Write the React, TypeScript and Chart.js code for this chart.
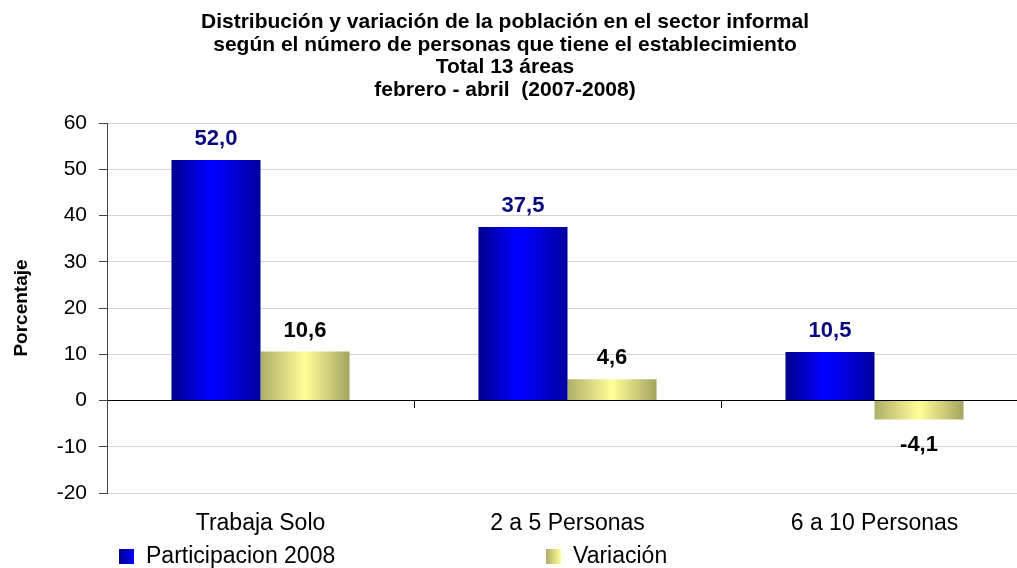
import React, { useEffect, useRef } from 'react';
import { Chart, registerables } from 'chart.js';

Chart.register(...registerables);

const categories = ['Trabaja Solo', '2 a 5 Personas', '6 a 10 Personas'];
const participacion2008 = [52.0, 37.5, 10.5];
const variacion = [10.6, 4.6, -4.1];
const seriesNames = ['Participacion 2008', 'Variación'];
const titleLines = [
  'Distribución y variación de la población en el sector informal',
  'según el número de personas que tiene el establecimiento',
  'Total 13 áreas',
  'febrero - abril  (2007-2008)',
];
const yAxisTitle = 'Porcentaje';
const yMin = -20;
const yMax = 60;
const yStep = 10;

const FONT = "'Liberation Sans', Arial, sans-serif";
const CAT_PCT = 0.58;

type Stop = [number, string];
const blueStops: Stop[] = [
  [0, '#00008c'],
  [0.42, '#0000ff'],
  [0.55, '#0000f4'],
  [1, '#00009e'],
];
const yellowStops: Stop[] = [
  [0, '#aeae68'],
  [0.5, '#ffff99'],
  [1, '#a4a460'],
];
const seriesStops = [blueStops, yellowStops];
const labelColors = ['#0a0a80', '#000000'];

function makeGradient(ctx: CanvasRenderingContext2D, x0: number, x1: number, stops: Stop[]) {
  const g = ctx.createLinearGradient(x0, 0, x1, 0);
  stops.forEach(([o, c]) => g.addColorStop(o, c));
  return g;
}

function barGradient(stops: Stop[]) {
  return (c: any) => {
    const chart = c.chart;
    const area = chart.chartArea;
    const xs = chart.scales && chart.scales.x;
    if (!area || !xs || c.type !== 'data') return stops[1][1];
    const n = chart.data.labels.length;
    const nd = chart.data.datasets.length;
    const cat = xs.width / n;
    const group = cat * CAT_PCT;
    const bw = group / nd;
    const left = xs.getPixelForValue(c.dataIndex) - group / 2 + c.datasetIndex * bw;
    return makeGradient(chart.ctx, left, left + bw, stops);
  };
}

const titlePlugin = {
  id: 'customTitle',
  afterDraw(chart: any) {
    const ctx = chart.ctx;
    ctx.save();
    ctx.font = `bold 21px ${FONT}`;
    ctx.fillStyle = '#000';
    ctx.textAlign = 'center';
    ctx.textBaseline = 'alphabetic';
    titleLines.forEach((t, i) => ctx.fillText(t, 505, 28 + i * 22.7));
    ctx.restore();
  },
};

const valueLabelPlugin = {
  id: 'valueLabels',
  afterDatasetsDraw(chart: any) {
    const ctx = chart.ctx;
    ctx.save();
    ctx.font = `bold 22px ${FONT}`;
    ctx.textAlign = 'center';
    ctx.textBaseline = 'middle';
    chart.data.datasets.forEach((ds: any, di: number) => {
      const meta = chart.getDatasetMeta(di);
      ctx.fillStyle = labelColors[di];
      meta.data.forEach((el: any, i: number) => {
        const v = ds.data[i];
        const txt = v.toFixed(1).replace('.', ',');
        const y = v >= 0 ? el.y - 21 : el.y + 25;
        ctx.fillText(txt, el.x, y);
      });
    });
    ctx.restore();
  },
};

const legendPlugin = {
  id: 'customLegend',
  afterDraw(chart: any) {
    const ctx = chart.ctx;
    const boxX = [119, 546];
    const y = 556;
    ctx.save();
    ctx.font = `23px ${FONT}`;
    ctx.textAlign = 'left';
    ctx.textBaseline = 'middle';
    chart.data.datasets.forEach((ds: any, di: number) => {
      const x = boxX[di];
      const stops = seriesStops[di];
      ctx.fillStyle = makeGradient(ctx, x, x + 15, [
        [0, stops[0][1]],
        [1, stops[1][1]],
      ]);
      ctx.fillRect(x, y - 7, 15, 15);
      ctx.fillStyle = '#000';
      ctx.fillText(ds.label, x + 27, y + 1);
    });
    ctx.restore();
  },
};

export default function App() {
  const ref = useRef<HTMLCanvasElement | null>(null);
  useEffect(() => {
    if (!ref.current) return;
    const chart = new Chart(ref.current, {
      type: 'bar',
      data: {
        labels: categories,
        datasets: [
          {
            label: seriesNames[0],
            data: participacion2008,
            backgroundColor: barGradient(blueStops),
            borderWidth: 0,
            categoryPercentage: CAT_PCT,
            barPercentage: 1,
          },
          {
            label: seriesNames[1],
            data: variacion,
            backgroundColor: barGradient(yellowStops),
            borderWidth: 0,
            categoryPercentage: CAT_PCT,
            barPercentage: 1,
          },
        ],
      },
      options: {
        responsive: false,
        animation: false,
        devicePixelRatio: 1,
        layout: { padding: { top: 123, right: 12, left: 0, bottom: 0 } },
        plugins: {
          legend: { display: false },
          title: { display: false },
          tooltip: { enabled: false },
        },
        scales: {
          x: {
            type: 'category',
            position: 'bottom',
            grid: { display: false, drawTicks: false },
            border: { display: false },
            ticks: {
              color: '#000',
              font: { family: FONT, size: 23 },
              padding: 17,
              maxRotation: 0,
            },
            afterFit(scale: any) {
              scale.height = 75;
            },
          },
          x2: {
            type: 'category',
            axis: 'x',
            position: { y: 0 },
            grid: {
              display: true,
              drawOnChartArea: false,
              drawTicks: true,
              tickLength: 7,
              offset: true,
              color: '#000',
            },
            border: { display: false },
            ticks: { display: false },
          },
          y: {
            min: yMin,
            max: yMax,
            ticks: {
              stepSize: yStep,
              color: '#000',
              font: { family: FONT, size: 21 },
              padding: 12,
            },
            grid: {
              color: (c: any) => (c.tick && c.tick.value === 0 ? '#000000' : '#d3d3d3'),
              tickColor: '#444',
              tickLength: 8,
              lineWidth: 1,
            },
            border: { display: true, color: '#444', width: 1 },
            title: {
              display: true,
              text: yAxisTitle,
              color: '#000',
              font: { family: FONT, size: 19, weight: 'bold' },
              padding: { top: 10, bottom: 0 },
            },
            afterFit(scale: any) {
              scale.width = 107;
            },
          },
        },
      } as any,
      plugins: [valueLabelPlugin, titlePlugin, legendPlugin],
    });
    return () => chart.destroy();
  }, []);

  return (
    <div style={{ position: 'absolute', left: 0, top: 0, width: 1017, height: 568, overflow: 'hidden', background: '#fff' }}>
      <canvas ref={ref} width={1040} height={568} style={{ display: 'block', width: 1040, height: 568 }} />
    </div>
  );
}
